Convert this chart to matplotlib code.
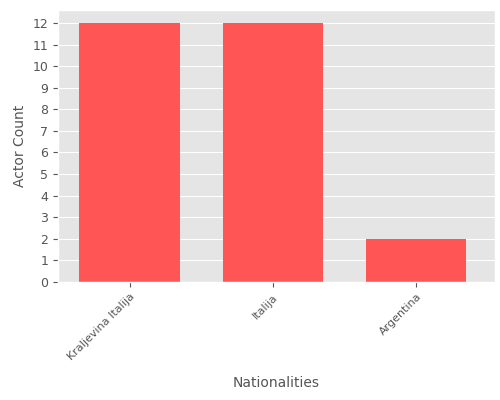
import matplotlib
matplotlib.use("Agg")
import matplotlib.pyplot as plt

plt.style.use("ggplot")
categories = ["Kraljevina Italija", "Italija", "Argentina"]
counts = [12, 12, 2]

fig = plt.figure(figsize=(5, 4), dpi=100)
ax = fig.add_axes([0.116, 0.295, 0.874, 0.68])
ax.bar(range(len(categories)), counts, width=0.7, color="#FF5555")
ax.set_xticks(range(len(categories)))
ax.set_xticklabels(categories, rotation=45, ha="right", rotation_mode="anchor", fontsize=8)
ax.set_yticks(range(0, 13))
ax.tick_params(axis="y", labelsize=9)
ax.set_ylim(0, 12.6)
ax.set_xlim(-0.5, 2.55)
ax.grid(axis="x", visible=False)
ax.set_xlabel("Nationalities", fontsize=10, color="#555555", labelpad=10)
ax.set_ylabel("Actor Count", fontsize=10, color="#555555")
fig.savefig("out.png", dpi=100)
